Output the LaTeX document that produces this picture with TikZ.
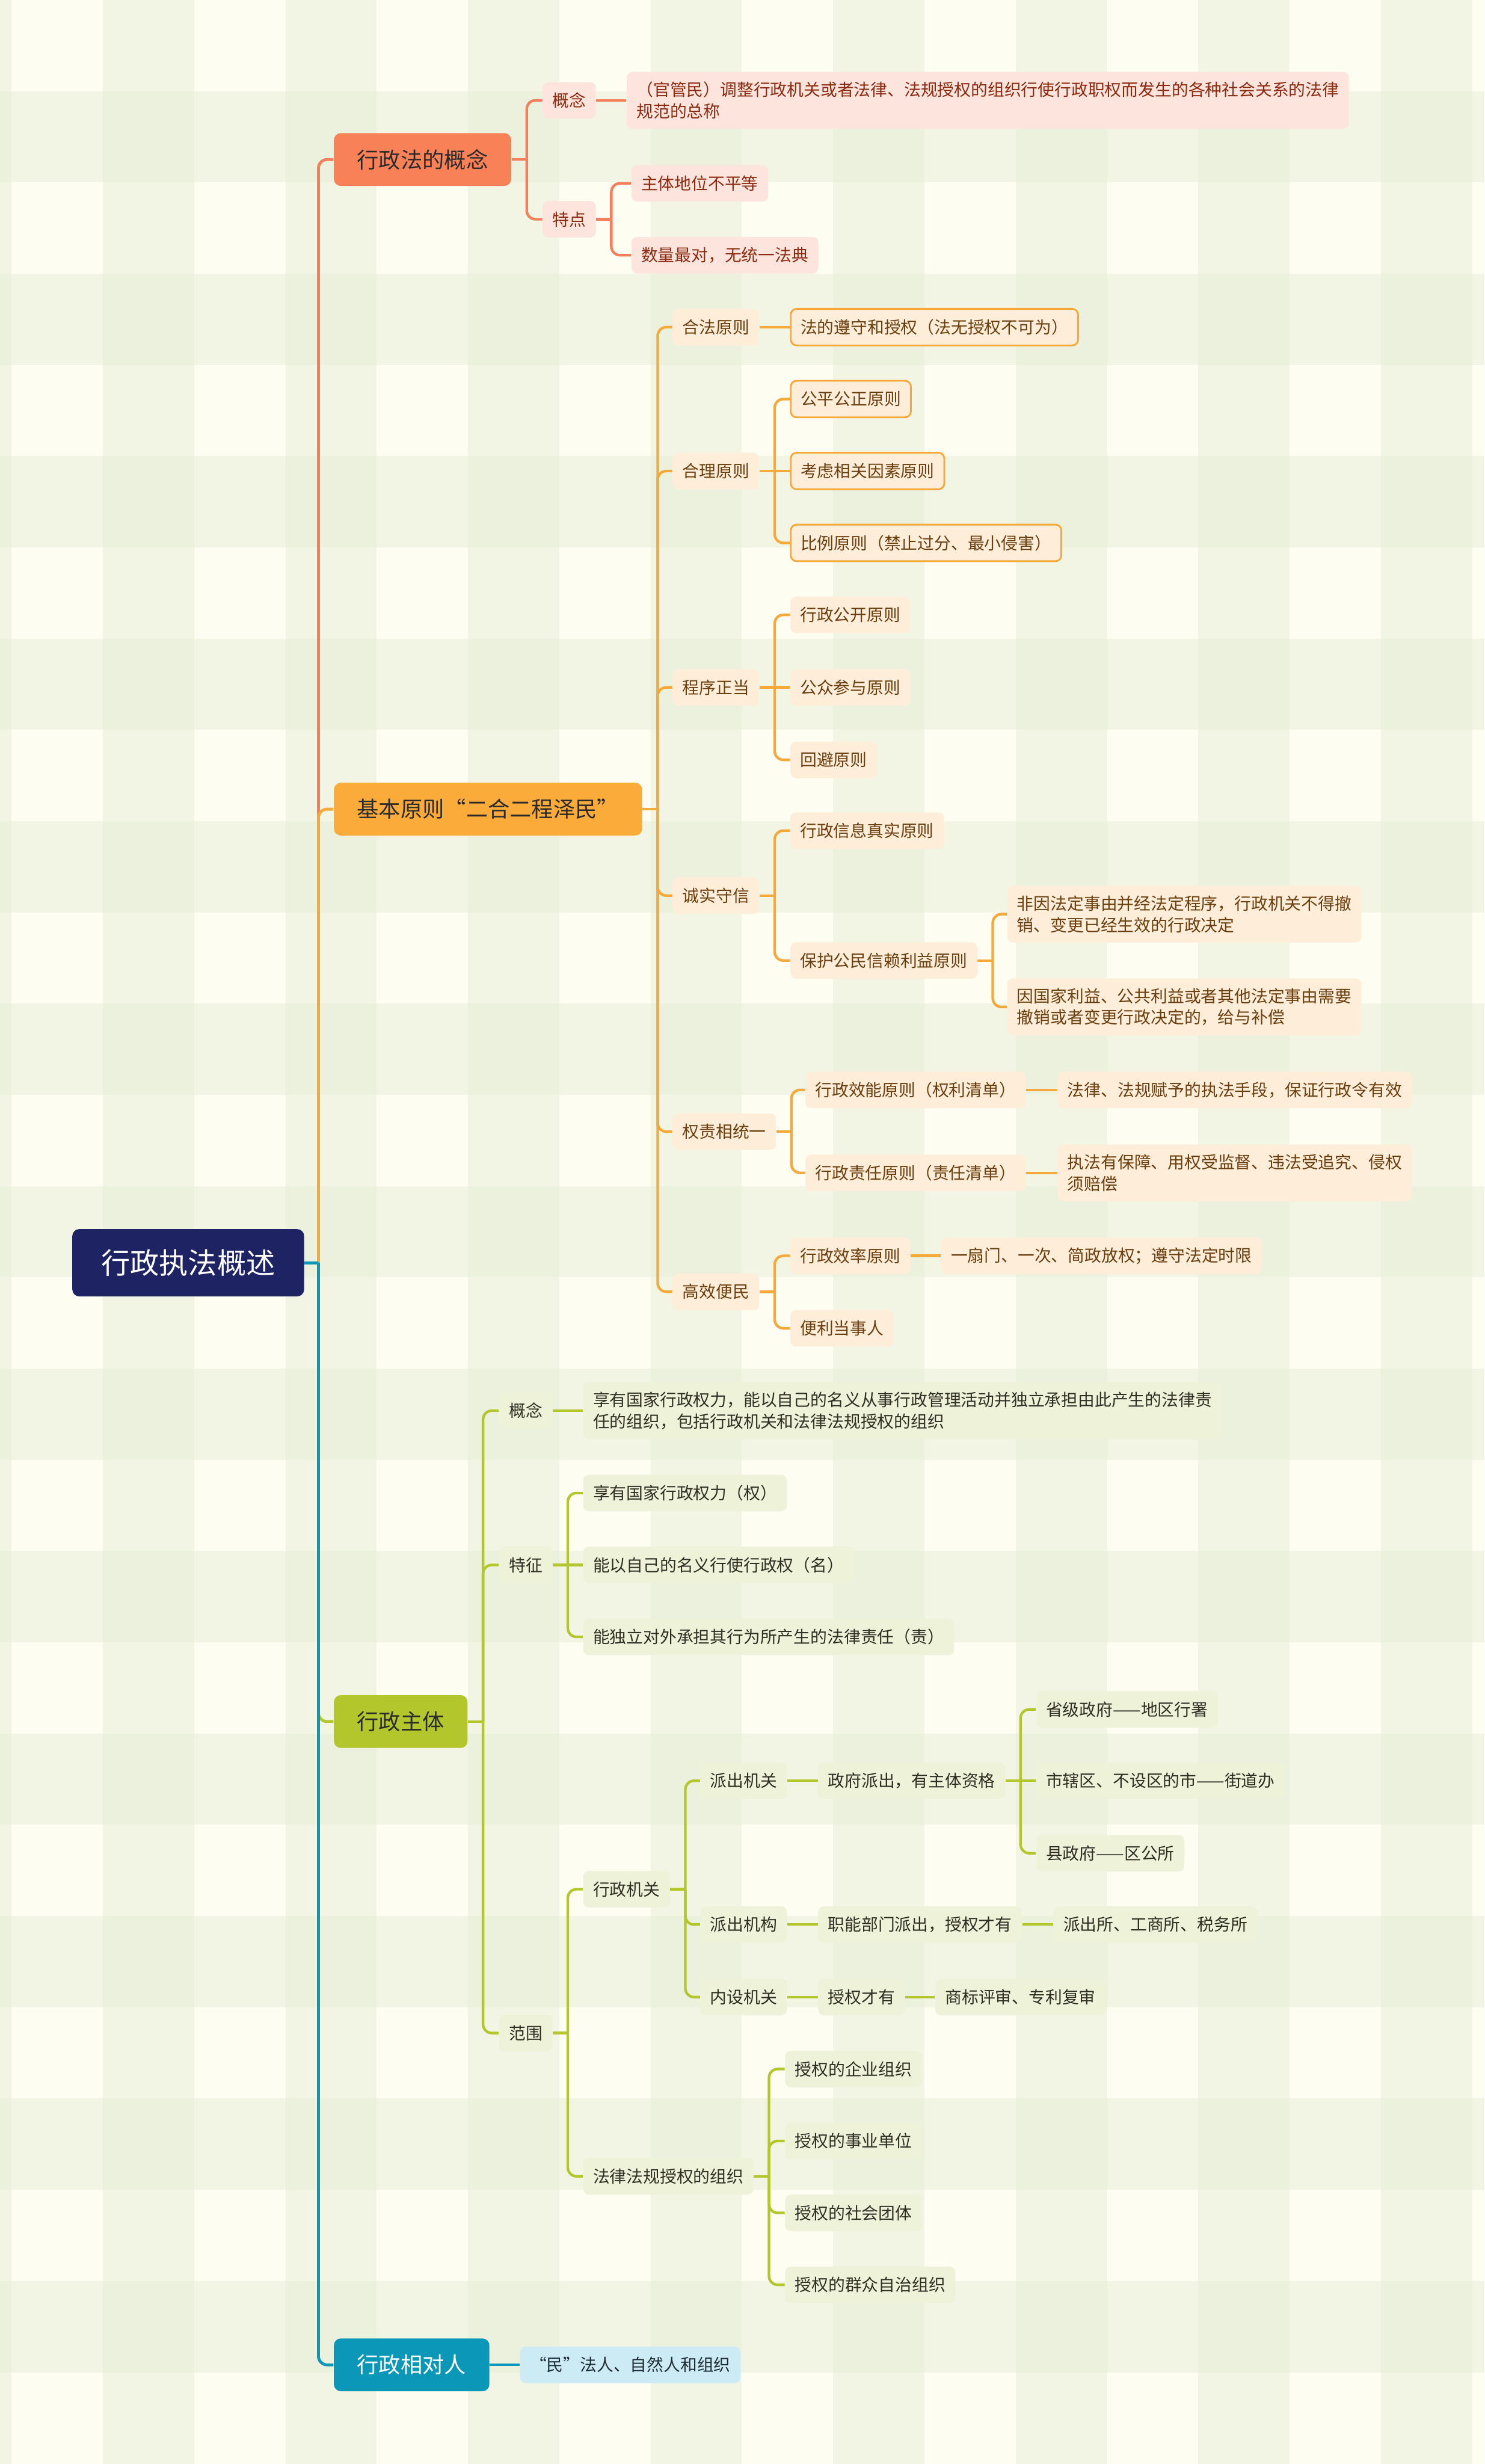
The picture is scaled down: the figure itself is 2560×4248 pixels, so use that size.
\documentclass[tikz,border=0pt]{standalone}
\usepackage{fontspec}
\setmainfont{Noto Sans CJK SC}
\definecolor{bgc}{HTML}{FEFDF1}
\definecolor{gs}{HTML}{E8EFD9}
\definecolor{rootc}{HTML}{1E2463}
\definecolor{corc}{HTML}{F47F5A}
\definecolor{corf}{HTML}{F98158}
\definecolor{corl}{HTML}{FDE4DC}
\definecolor{cort}{HTML}{8C2A10}
\definecolor{orgc}{HTML}{F6A93B}
\definecolor{orgf}{HTML}{FBAB3A}
\definecolor{orgl}{HTML}{FEEDD8}
\definecolor{orgt}{HTML}{6B3E0E}
\definecolor{grnc}{HTML}{B3C72C}
\definecolor{grnl}{HTML}{EEF2D8}
\definecolor{grnt}{HTML}{2E2E22}
\definecolor{telc}{HTML}{0A97B8}
\definecolor{tell}{HTML}{CDEBF5}
\definecolor{telt}{HTML}{1E2D33}
\definecolor{darktxt}{HTML}{2B2B2B}
\tikzset{
  base/.style={anchor=west, rounded corners=0.1cm, inner xsep=0.17cm, inner ysep=0.17cm,
    minimum height=0.63cm, font=\fontsize{8.2pt}{10.5pt}\selectfont, align=left},
  rootn/.style={anchor=west, fill=rootc, text=white, rounded corners=0.12cm,
    inner xsep=0.5cm, minimum height=1.16cm, font=\fontsize{14.2pt}{17pt}\selectfont},
  lone/.style={anchor=west, fill=#1, rounded corners=0.12cm, inner xsep=0.4cm,
    minimum height=0.91cm, font=\fontsize{10.7pt}{13pt}\selectfont, text=darktxt},
  cor/.style={base, fill=corl, text=cort},
  org/.style={base, fill=orgl, text=orgt},
  orgb/.style={org, draw=orgc, line width=0.03cm},
  grn/.style={base, fill=grnl, text=grnt},
  tel/.style={base, fill=tell, text=telt},
  lk/.style={line width=0.045cm, draw=#1, rounded corners=0.15cm},
  tk/.style={line width=0.05cm, draw=#1, rounded corners=0.15cm},
}
\newcommand\mmhub[3]{\draw[lk=#1] (#2.east) -- ++(26,0) coordinate (#2j);
  \foreach \ch in {#3}{\draw[lk=#1] (#2j) |- (\ch.west);}}
\newcommand\mmlink[3]{\draw[lk=#1] (#2.east) -- (#3.west);}
\begin{document}
\begin{tikzpicture}[x=0.01cm,y=-0.01cm]
\useasboundingbox (0,0) rectangle (2560,4248);
% background gingham
\fill[bgc] (0,0) rectangle (2560,4248);
\fill[gs,opacity=.5] (0,0) rectangle (20,4248);
\foreach \k in {0,...,7}{\fill[gs,opacity=.5] ({20+157.4*(2*\k+1)},0) rectangle ({20+157.4*(2*\k+2)},4248);}
\foreach \k in {0,...,12}{\fill[gs,opacity=.5] (0,{157.3*(2*\k+1)}) rectangle (2560,{157.3*(2*\k+2)});}

% nodes
\node[rootn] (R) at (124,2177) {行政执法概述};

\node[lone=corf] (A) at (575,275) {行政法的概念};
\node[cor] (A1) at (935,173) {概念};
\node[cor] (A1a) at (1080,173) {（官管民）调整行政机关或者法律、法规授权的组织行使行政职权而发生的各种社会关系的法律\\规范的总称};
\node[cor] (A2) at (935,378) {特点};
\node[cor] (A2a) at (1088,316) {主体地位不平等};
\node[cor] (A2b) at (1088,440) {数量最对，无统一法典};

\node[lone=orgf] (B) at (575,1395) {基本原则“二合二程泽民”};
\node[org] (B1) at (1159,564) {合法原则};
\node[orgb] (B1a) at (1362,564) {法的遵守和授权（法无授权不可为）};
\node[org] (B2) at (1159,812) {合理原则};
\node[orgb] (B2a) at (1362,688) {公平公正原则};
\node[orgb] (B2b) at (1362,812) {考虑相关因素原则};
\node[orgb] (B2c) at (1362,936) {比例原则（禁止过分、最小侵害）};
\node[org] (B3) at (1159,1185) {程序正当};
\node[org] (B3a) at (1362,1060) {行政公开原则};
\node[org] (B3b) at (1362,1185) {公众参与原则};
\node[org] (B3c) at (1362,1310) {回避原则};
\node[org] (B4) at (1159,1544) {诚实守信};
\node[org] (B4a) at (1362,1432) {行政信息真实原则};
\node[org] (B4b) at (1362,1656) {保护公民信赖利益原则};
\node[org] (B4b1) at (1736,1576) {非因法定事由并经法定程序，行政机关不得撤\\销、变更已经生效的行政决定};
\node[org] (B4b2) at (1736,1736) {因国家利益、公共利益或者其他法定事由需要\\撤销或者变更行政决定的，给与补偿};
\node[org] (B5) at (1159,1951) {权责相统一};
\node[org] (B5a) at (1388,1879) {行政效能原则（权利清单）};
\node[org] (B5a1) at (1823,1879) {法律、法规赋予的执法手段，保证行政令有效};
\node[org] (B5b) at (1388,2022) {行政责任原则（责任清单）};
\node[org] (B5b1) at (1823,2022) {执法有保障、用权受监督、违法受追究、侵权\\须赔偿};
\node[org] (B6) at (1159,2227) {高效便民};
\node[org] (B6a) at (1362,2165) {行政效率原则};
\node[org] (B6a1) at (1622,2165) {一扇门、一次、简政放权；遵守法定时限};
\node[org] (B6b) at (1362,2290) {便利当事人};

\node[lone=grnc] (C) at (575,2968) {行政主体};
\node[grn] (C1) at (860,2432) {概念};
\node[grn] (C1a) at (1005,2432) {享有国家行政权力，能以自己的名义从事行政管理活动并独立承担由此产生的法律责\\任的组织，包括行政机关和法律法规授权的组织};
\node[grn] (C2) at (860,2698) {特征};
\node[grn] (C2a) at (1005,2574) {享有国家行政权力（权）};
\node[grn] (C2b) at (1005,2698) {能以自己的名义行使行政权（名）};
\node[grn] (C2c) at (1005,2822) {能独立对外承担其行为所产生的法律责任（责）};
\node[grn] (C3) at (860,3505) {范围};
\node[grn] (C3a) at (1005,3257) {行政机关};
\node[grn] (C3a1) at (1207,3070) {派出机关};
\node[grn] (C3a1x) at (1410,3070) {政府派出，有主体资格};
\node[grn] (P1) at (1786,2947) {省级政府——地区行署};
\node[grn] (P2) at (1786,3070) {市辖区、不设区的市——街道办};
\node[grn] (P3) at (1786,3195) {县政府——区公所};
\node[grn] (C3a2) at (1207,3318) {派出机构};
\node[grn] (C3a2x) at (1410,3318) {职能部门派出，授权才有};
\node[grn] (C3a2y) at (1816,3318) {派出所、工商所、税务所};
\node[grn] (C3a3) at (1207,3443) {内设机关};
\node[grn] (C3a3x) at (1410,3443) {授权才有};
\node[grn] (C3a3y) at (1612,3443) {商标评审、专利复审};
\node[grn] (C3b) at (1005,3752) {法律法规授权的组织};
\node[grn] (Q1) at (1353,3567) {授权的企业组织};
\node[grn] (Q2) at (1353,3691) {授权的事业单位};
\node[grn] (Q3) at (1353,3815) {授权的社会团体};
\node[grn] (Q4) at (1353,3939) {授权的群众自治组织};

\node[lone=telc, text=white] (D) at (575,4077) {行政相对人};
\node[tel] (D1) at (896,4077) {“民”法人、自然人和组织};

% trunk
\path (R.east) -- ++(24,0) coordinate (Rj);
\draw[tk=corc] (Rj) |- (A.west);
\draw[tk=orgc] (Rj) |- (B.west);
\draw[tk=grnc] (Rj) |- (C.west);
\draw[tk=telc] (Rj) |- (D.west);
\draw[tk=telc] (R.east) -- (Rj);

% coral branch
\mmhub{corc}{A}{A1,A2}
\mmlink{corc}{A1}{A1a}
\mmhub{corc}{A2}{A2a,A2b}

% orange branch
\mmhub{orgc}{B}{B1,B2,B3,B4,B5,B6}
\mmlink{orgc}{B1}{B1a}
\mmhub{orgc}{B2}{B2a,B2c}
\draw[lk=orgc] (B2j) -- (B2b.west);
\mmhub{orgc}{B3}{B3a,B3c}
\draw[lk=orgc] (B3j) -- (B3b.west);
\mmhub{orgc}{B4}{B4a,B4b}
\mmhub{orgc}{B4b}{B4b1,B4b2}
\mmhub{orgc}{B5}{B5a,B5b}
\mmlink{orgc}{B5a}{B5a1}
\mmlink{orgc}{B5b}{B5b1}
\mmhub{orgc}{B6}{B6a,B6b}
\mmlink{orgc}{B6a}{B6a1}

% green branch
\mmhub{grnc}{C}{C1,C2,C3}
\mmlink{grnc}{C1}{C1a}
\mmhub{grnc}{C2}{C2a,C2c}
\draw[lk=grnc] (C2j) -- (C2b.west);
\mmhub{grnc}{C3}{C3a,C3b}
\mmhub{grnc}{C3a}{C3a1,C3a2,C3a3}
\mmlink{grnc}{C3a1}{C3a1x}
\mmhub{grnc}{C3a1x}{P1,P3}
\draw[lk=grnc] (C3a1xj) -- (P2.west);
\mmlink{grnc}{C3a2}{C3a2x}
\mmlink{grnc}{C3a2x}{C3a2y}
\mmlink{grnc}{C3a3}{C3a3x}
\mmlink{grnc}{C3a3x}{C3a3y}
\mmhub{grnc}{C3b}{Q1,Q2,Q3,Q4}

% teal branch
\mmlink{telc}{D}{D1}
\end{tikzpicture}
\end{document}
